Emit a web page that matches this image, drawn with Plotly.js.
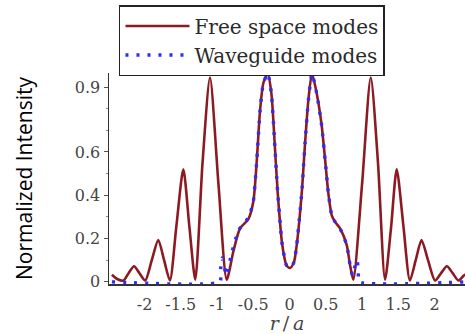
<!DOCTYPE html>
<html>
<head>
<meta charset="utf-8">
<script src="https://cdn.plot.ly/plotly-3.0.1.min.js"></script>
<style>html,body{margin:0;padding:0;background:#fff;}#chart{width:465px;height:334px;}</style>
</head>
<body>
<div id="chart"></div>
<script>
// Free space modes (r/a, normalized intensity)
var freeR = [-2.45,-2.37,-2.29,-2.22,-2.145,-2.07,-1.99,-1.90,-1.81,-1.73,-1.65,-1.56,-1.465,-1.38,-1.30,-1.20,-1.097,-0.98,-0.866,-0.775,-0.683,-0.568,-0.50,-0.45,-0.407,-0.36,-0.30,-0.25,-0.21,-0.165,-0.10,-0.04,0.007,0.06,0.099,0.168,0.214,0.26,0.31,0.375,0.444,0.49,0.535,0.582,0.628,0.697,0.789,0.834,0.88,1.00,1.12,1.22,1.317,1.40,1.478,1.57,1.66,1.74,1.82,1.91,2.007,2.09,2.17,2.25,2.33,2.40,2.43];
var freeV = [0.033,0.012,0.006,0.040,0.072,0.040,0.006,0.100,0.193,0.100,0.006,0.260,0.520,0.250,0.010,0.550,0.944,0.450,0.010,0.140,0.247,0.290,0.370,0.570,0.790,0.920,0.962,0.870,0.670,0.420,0.170,0.075,0.064,0.090,0.170,0.410,0.640,0.840,0.962,0.870,0.720,0.566,0.410,0.307,0.277,0.247,0.170,0.079,0.010,0.450,0.944,0.550,0.010,0.250,0.520,0.260,0.006,0.100,0.193,0.100,0.006,0.040,0.072,0.040,0.006,0.028,0.035];
// Waveguide modes
var guideR = [-2.45,-0.96,-0.95,-0.93,-0.90,-0.87,-0.80,-0.70,-0.60,-0.55,-0.50,-0.45,-0.407,-0.36,-0.30,-0.25,-0.21,-0.165,-0.10,-0.04,0.007,0.06,0.099,0.168,0.214,0.26,0.31,0.375,0.444,0.49,0.535,0.582,0.628,0.697,0.789,0.834,0.87,0.90,0.93,0.95,0.96,2.43];
var guideV = [0,0,0.060,0.110,0.070,0.030,0.130,0.240,0.280,0.310,0.370,0.570,0.790,0.920,0.962,0.870,0.670,0.420,0.170,0.075,0.064,0.090,0.170,0.410,0.640,0.840,0.962,0.870,0.720,0.566,0.410,0.307,0.277,0.247,0.170,0.079,0.030,0.070,0.100,0.050,0,0];
var xTicks = [-2,-1.5,-1,-0.5,0,0.5,1,1.5,2];
var yTicks = [0,0.2,0.4,0.6,0.9];
var seriesNames = ['Free space modes','Waveguide modes'];

var serif = '"DejaVu Serif", "Liberation Serif", serif';
var traces = [
  {x: freeR, y: freeV, name: seriesNames[0], type: 'scatter', mode: 'lines',
   line: {color: '#8c1a22', width: 2.6, shape: 'spline', smoothing: 0.7}},
  {x: guideR, y: guideV, name: seriesNames[1], type: 'scatter', mode: 'lines',
   line: {color: '#2b2bff', width: 3.4, dash: '3px,8px', shape: 'spline', smoothing: 0.5}}
];
var layout = {
  width: 465, height: 334,
  margin: {l: 109, r: 0, t: 73, b: 50},
  paper_bgcolor: '#fff', plot_bgcolor: '#fff',
  showlegend: true,
  legend: {x: 0.028, y: 1.322, xanchor: 'left', yanchor: 'top',
    bgcolor: '#fff', bordercolor: '#222', borderwidth: 1.5,
    font: {family: serif, size: 20, color: '#2a2a2a'}, itemwidth: 64, tracegroupgap: 0},
  xaxis: {range: [-2.49, 2.42], tickvals: xTicks, ticktext: xTicks.map(String),
    showgrid: false, zeroline: false, showline: true, linecolor: '#333', linewidth: 1.5,
    layer: 'below traces',
    ticks: '', ticklabelstandoff: 5,
    tickfont: {family: serif, size: 16, color: '#444'},
    title: {text: '<i>r</i>\u2009/\u2009<i>a</i>', font: {family: serif, size: 19, color: '#444'}, standoff: 7}},
  yaxis: {range: [-0.01, 0.965], tickvals: yTicks, ticktext: yTicks.map(String),
    showgrid: false, zeroline: false, showline: true, linecolor: '#333', linewidth: 1.5,
    layer: 'below traces',
    ticks: 'outside', ticklen: 4, tickcolor: '#555',
    minor: {dtick: 0.1, tick0: 0, ticks: 'outside', ticklen: 2, tickcolor: '#888'},
    tickfont: {family: serif, size: 16, color: '#444'},
    title: {text: 'Normalized Intensity', font: {family: '"Open Sans", sans-serif', size: 21, color: '#000'}, standoff: 36}}
};
Plotly.newPlot('chart', traces, layout, {displayModeBar: false, staticPlot: true});
</script>
</body>
</html>
